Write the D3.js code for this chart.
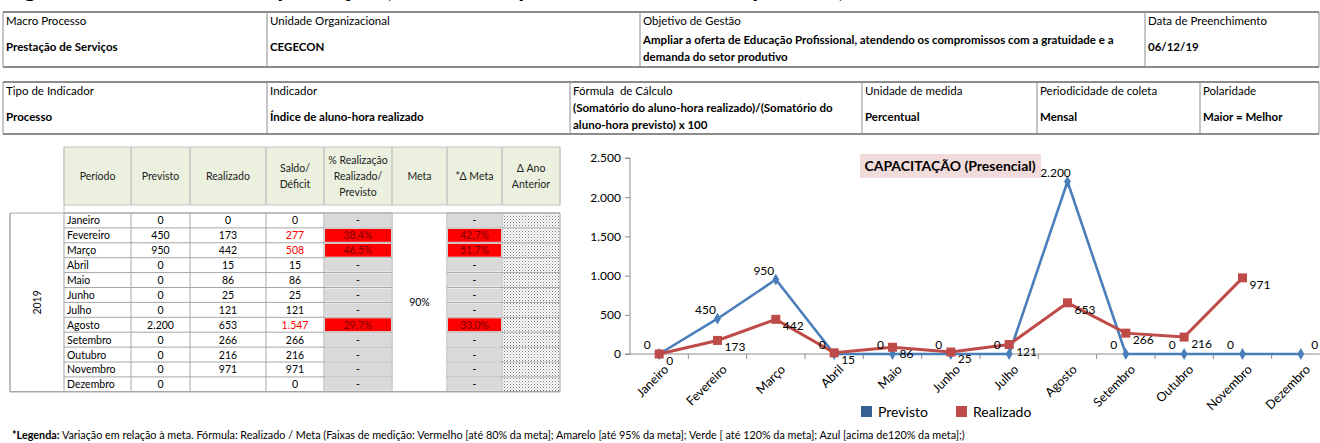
<!DOCTYPE html>
<html>
<head>
<meta charset="utf-8">
<script src="https://cdn.jsdelivr.net/npm/d3@7"></script>
<style>
body { margin: 0; background: #fff; }
text { font-family: Lato, "Liberation Sans", sans-serif; fill: #000; white-space: pre; }
</style>
</head>
<body>
<div id="ficha"></div>
<script>
// ---- data ----
var months = ["Janeiro", "Fevereiro", "Março", "Abril", "Maio", "Junho", "Julho",
              "Agosto", "Setembro", "Outubro", "Novembro", "Dezembro"];
var previsto  = [0, 450, 950, 0, 0, 0, 0, 2200, 0, 0, 0, 0];
var realizado = [0, 173, 442, 15, 86, 25, 121, 653, 266, 216, 971, null];
var saldo     = [0, 277, 508, 15, 86, 25, 121, 1547, 266, 216, 971, 0];
var pctRealizacao = [null, 38.4, 46.5, null, null, null, null, 29.7, null, null, null, null];
var deltaMeta     = [null, 42.7, 51.7, null, null, null, null, 33.0, null, null, null, null];
var meta = "90%";
var ano = "2019";
var yTicks = [0, 500, 1000, 1500, 2000, 2500];

var info1Labels = ["Macro Processo", "Unidade Organizacional", "Objetivo de Gestão", "Data de Preenchimento"];
var info1Values = ["Prestação de Serviços", "CEGECON",
    "Ampliar a oferta de Educação Profissional, atendendo os compromissos com a gratuidade e a\ndemanda do setor produtivo",
    "06/12/19"];
var info2Labels = ["Tipo de Indicador", "Indicador", "Fórmula  de Cálculo", "Unidade de medida", "Periodicidade de coleta", "Polaridade"];
var info2Values = ["Processo", "Índice de aluno-hora realizado",
    "(Somatório do aluno-hora realizado)/(Somatório do\naluno-hora previsto) x 100",
    "Percentual", "Mensal", "Maior = Melhor"];
var tableHeaders = ["Período", "Previsto", "Realizado", "Saldo/\nDéficit",
    "% Realização\nRealizado/\nPrevisto", "Meta", "*Δ Meta", "Δ Ano\nAnterior"];
var seriesNames = ["Previsto", "Realizado"];
var chartTitle = "CAPACITAÇÃO (Presencial)";
var pageTitle = "Figura 1 - Indicador de Capacitação (Aluno-hora presencial realizado x previsto)";

var W = 1320, H = 443;
var blue = "#4a7ebb", red = "#be4b48";

var br = d3.formatLocale({decimal: ",", thousands: ".", grouping: [3], currency: ["R$", ""]});
var fmtInt = br.format(",d");
var fmtPct = function(v) { return br.format(".1f")(v) + "%"; };

var svg = d3.select("#ficha").append("svg")
    .attr("width", W)
    .attr("height", H);

svg.append("rect").attr("width", W).attr("height", H).attr("fill", "#fff");

var defs = svg.append("defs");
var pat = defs.append("pattern")
    .attr("id", "dots")
    .attr("width", 3).attr("height", 3)
    .attr("patternUnits", "userSpaceOnUse");
pat.append("rect").attr("width", 3).attr("height", 3).attr("fill", "#fff");
pat.append("rect").attr("x", 0).attr("y", 0).attr("width", 1).attr("height", 1).attr("fill", "#777");
pat.append("rect").attr("x", 1.5).attr("y", 1.5).attr("width", 1).attr("height", 1).attr("fill", "#999");

// page title, mostly above the visible area (the sheet is cropped there)
svg.append("text")
    .attr("x", 4).attr("y", -3)
    .style("font-size", "24px")
    .style("font-weight", "bold")
    .text(pageTitle);

// multi-line text helper
function lines(sel, str, x, yFirst, step, anchor) {
    var parts = str.split("\n");
    var t = sel.append("text").attr("text-anchor", anchor || "start");
    parts.forEach(function(p, i) {
        t.append("tspan").attr("x", x).attr("y", yFirst + i * step).text(p);
    });
    return t;
}

// ---- info boxes ----
function infoTable(cols, top, bottom, labels, values, labelY, valueY, twoLineY) {
    var g = svg.append("g");
    g.append("line").attr("x1", cols[0]).attr("x2", cols[cols.length - 1])
        .attr("y1", top).attr("y2", top).attr("stroke", "#8c8c8c").attr("stroke-width", 2);
    g.append("line").attr("x1", cols[0]).attr("x2", cols[cols.length - 1])
        .attr("y1", bottom).attr("y2", bottom).attr("stroke", "#8c8c8c").attr("stroke-width", 2);
    cols.forEach(function(c) {
        g.append("line").attr("x1", c).attr("x2", c).attr("y1", top).attr("y2", bottom)
            .attr("stroke", "#8c8c8c").attr("stroke-width", 1);
    });
    labels.forEach(function(l, i) {
        g.append("text").attr("x", cols[i] + 3).attr("y", labelY)
            .style("font-size", "11.5px").text(l);
        var v = values[i];
        var t;
        if (v.indexOf("\n") >= 0) {
            t = lines(g, v, cols[i] + 3, twoLineY, 17);
        } else {
            t = g.append("text").attr("x", cols[i] + 3).attr("y", valueY).text(v);
        }
        t.style("font-size", "11.5px").style("font-weight", "bold");
    });
}

infoTable([3, 267, 640, 1145, 1319], 12, 67, info1Labels, info1Values, 25, 51, 44);
infoTable([3, 267, 570, 862, 1037, 1200, 1319], 82, 134, info2Labels, info2Values, 95, 121, 112);

// ---- data table ----
var colX = [64, 131, 190, 266, 324, 392, 447, 502, 560];
var headTop = 147, headBottom = 205, bodyTop = 213, rowH = 14.9;
var bodyBottom = bodyTop + rowH * months.length;
var tg = svg.append("g");
var gridColor = "#a6a6a6";

tg.append("rect").attr("x", colX[0]).attr("y", headTop)
    .attr("width", colX[8] - colX[0]).attr("height", headBottom - headTop)
    .attr("fill", "#ebf1de");
colX.forEach(function(c) {
    tg.append("line").attr("x1", c).attr("x2", c).attr("y1", headTop).attr("y2", headBottom)
        .attr("stroke", "#c4c4c4").attr("stroke-width", 1.5);
});
[headTop, headBottom].forEach(function(yy) {
    tg.append("line").attr("x1", colX[0]).attr("x2", colX[8]).attr("y1", yy).attr("y2", yy)
        .attr("stroke", "#c4c4c4").attr("stroke-width", 1);
});
tg.append("line").attr("x1", colX[0]).attr("x2", colX[0]).attr("y1", headBottom).attr("y2", bodyTop)
    .attr("stroke", "#c4c4c4");
tableHeaders.forEach(function(h, i) {
    var n = h.split("\n").length;
    var cx = (colX[i] + colX[i + 1]) / 2;
    var firstY = 176 - (n - 1) * 8 + 4;
    lines(tg, h, cx, firstY, 16, "middle").style("font-size", "10.5px").style("fill", "#222");
});

// cell fills
months.forEach(function(m, i) {
    var y0 = bodyTop + i * rowH;
    [[4, pctRealizacao], [6, deltaMeta]].forEach(function(c) {
        var v = c[1][i];
        tg.append("rect").attr("x", colX[c[0]] + 1).attr("y", y0 + 1)
            .attr("width", colX[c[0] + 1] - colX[c[0]] - 2).attr("height", rowH - 2)
            .attr("fill", v == null ? "#d9d9d9" : "#ff0000");
    });
    tg.append("rect").attr("x", colX[7] + 1).attr("y", y0 + 0.5)
        .attr("width", colX[8] - colX[7] - 1).attr("height", rowH - 1)
        .attr("fill", "url(#dots)");
});

// grid lines
months.forEach(function(m, i) {
    var y0 = bodyTop + i * rowH;
    [[colX[0], colX[5]], [colX[6], colX[8]]].forEach(function(seg) {
        tg.append("line").attr("x1", seg[0]).attr("x2", seg[1]).attr("y1", y0).attr("y2", y0)
            .attr("stroke", gridColor);
    });
});
tg.append("line").attr("x1", 10).attr("x2", colX[8]).attr("y1", bodyTop).attr("y2", bodyTop).attr("stroke", gridColor);
tg.append("line").attr("x1", 10).attr("x2", colX[8]).attr("y1", bodyBottom).attr("y2", bodyBottom)
    .attr("stroke", gridColor).attr("stroke-width", 1.5);
tg.append("line").attr("x1", 10).attr("x2", 10).attr("y1", bodyTop).attr("y2", bodyBottom)
    .attr("stroke", gridColor).attr("stroke-width", 1.5);
colX.forEach(function(c) {
    tg.append("line").attr("x1", c).attr("x2", c).attr("y1", bodyTop).attr("y2", bodyBottom)
        .attr("stroke", gridColor);
});

// cell texts
months.forEach(function(m, i) {
    var ty = bodyTop + i * rowH + rowH / 2 + 4;
    function cell(col, str, color, anchor) {
        var cx = anchor === "start" ? colX[col] + 3 : (colX[col] + colX[col + 1]) / 2;
        tg.append("text").attr("x", cx).attr("y", ty)
            .attr("text-anchor", anchor || "middle")
            .style("font-size", "10.5px")
            .style("fill", color || "#000")
            .text(str);
    }
    cell(0, m, "#000", "start");
    cell(1, fmtInt(previsto[i]));
    cell(2, realizado[i] == null ? "" : fmtInt(realizado[i]));
    var deficit = realizado[i] != null && realizado[i] < previsto[i];
    cell(3, fmtInt(saldo[i]), deficit ? "#ff0000" : "#000");
    cell(4, pctRealizacao[i] == null ? "-" : fmtPct(pctRealizacao[i]), pctRealizacao[i] == null ? "#000" : "#7a0000");
    cell(6, deltaMeta[i] == null ? "-" : fmtPct(deltaMeta[i]), deltaMeta[i] == null ? "#000" : "#7a0000");
});
var midY = (bodyTop + bodyBottom) / 2;
tg.append("text").attr("x", (colX[5] + colX[6]) / 2).attr("y", midY + 4)
    .attr("text-anchor", "middle").style("font-size", "10.5px").text(meta);
tg.append("text")
    .attr("transform", "translate(" + 41 + "," + midY + ") rotate(-90)")
    .attr("text-anchor", "middle").style("font-size", "10.5px").text(ano);

// ---- line chart ----
var x = d3.scaleBand().domain(months).range([630, 1330]);
var y = d3.scaleLinear().domain([0, 2500]).range([354, 158]);
var bw = x.bandwidth();
var cg = svg.append("g");

cg.append("g")
    .attr("transform", "translate(630,0)")
    .call(d3.axisLeft(y).tickValues(yTicks).tickFormat(fmtInt).tickSize(5).tickPadding(4))
    .call(function(g) {
        g.selectAll("path, line").attr("stroke", "#8c8c8c");
        g.select(".domain").attr("d", "M-5," + y(2500) + "H0V" + y(0) + "H-5");
        g.selectAll("text").style("font-size", "12px").style("font-family", "Lato, sans-serif").attr("fill", "#000");
    });

cg.append("line").attr("x1", 630).attr("x2", 1330).attr("y1", y(0)).attr("y2", y(0))
    .attr("stroke", "#8c8c8c");
cg.selectAll(".xtick").data(months).enter().append("line")
    .attr("x1", function(d) { return x(d) + bw; })
    .attr("x2", function(d) { return x(d) + bw; })
    .attr("y1", y(0)).attr("y2", y(0) + 5)
    .attr("stroke", "#8c8c8c");
cg.selectAll(".xlab").data(months).enter().append("text")
    .attr("transform", function(d) {
        return "translate(" + (x(d) + bw / 2 + 4) + "," + (y(0) + 10) + ") rotate(-45)";
    })
    .attr("text-anchor", "end")
    .attr("dy", "0.7em")
    .style("font-size", "12.5px")
    .text(function(d) { return d; });

var line = d3.line()
    .defined(function(d) { return d.v != null; })
    .x(function(d) { return x(d.m) + bw / 2; })
    .y(function(d) { return y(d.v); });

var prevData = months.map(function(m, i) { return {m: m, v: previsto[i]}; });
var realData = months.map(function(m, i) { return {m: m, v: realizado[i]}; });

cg.append("path").datum(prevData).attr("d", line)
    .attr("fill", "none").attr("stroke", blue).attr("stroke-width", 2.6);
cg.selectAll(".dia").data(prevData).enter().append("path")
    .attr("d", d3.symbol(d3.symbolDiamond, 40))
    .attr("transform", function(d) { return "translate(" + (x(d.m) + bw / 2) + "," + y(d.v) + ")"; })
    .attr("fill", blue);

cg.append("path").datum(realData).attr("d", line)
    .attr("fill", "none").attr("stroke", red).attr("stroke-width", 3);
cg.selectAll(".sq").data(realData.filter(function(d) { return d.v != null; })).enter().append("path")
    .attr("d", d3.symbol(d3.symbolSquare, 81))
    .attr("transform", function(d) { return "translate(" + (x(d.m) + bw / 2) + "," + y(d.v) + ")"; })
    .attr("fill", red);

// data labels
cg.selectAll(".plab").data(prevData).enter().append("text")
    .attr("x", function(d, i) { return x(d.m) + bw / 2 + (i === months.length - 1 ? 14 : -12); })
    .attr("y", function(d) { return y(d.v) - 5; })
    .attr("text-anchor", "middle")
    .style("font-size", "12px")
    .text(function(d) { return fmtInt(d.v); });
cg.selectAll(".rlab").data(realData.filter(function(d) { return d.v != null; })).enter().append("text")
    .attr("x", function(d) { return x(d.m) + bw / 2 + 7; })
    .attr("y", function(d) { return y(d.v) + 11; })
    .attr("text-anchor", "start")
    .style("font-size", "12px")
    .text(function(d) { return fmtInt(d.v); });

// chart title
var tbox = cg.append("g");
tbox.append("rect").attr("x", 860).attr("y", 154).attr("width", 181).attr("height", 24).attr("fill", "#f2dcdb");
tbox.append("text").attr("x", 950).attr("y", 171).attr("text-anchor", "middle")
    .style("font-size", "14px").style("font-weight", "bold").text(chartTitle);

// legend
var legX = [861, 956];
seriesNames.forEach(function(s, i) {
    cg.append("rect").attr("x", legX[i]).attr("y", 406).attr("width", 11).attr("height", 11)
        .attr("fill", i === 0 ? "#376092" : red);
    cg.append("text").attr("x", legX[i] + 17).attr("y", 417).style("font-size", "14px").text(s);
});

// footer
var foot = svg.append("text").attr("x", 12).attr("y", 439).style("font-size", "10.8px");
foot.append("tspan").style("font-weight", "bold").text("*Legenda:");
foot.append("tspan").text(" Variação em relação à meta. Fórmula: Realizado / Meta (Faixas de medição: Vermelho [até 80% da meta]; Amarelo [até 95% da meta]; Verde [ até 120% da meta]; Azul [acima de120% da meta];)");
</script>
</body>
</html>
